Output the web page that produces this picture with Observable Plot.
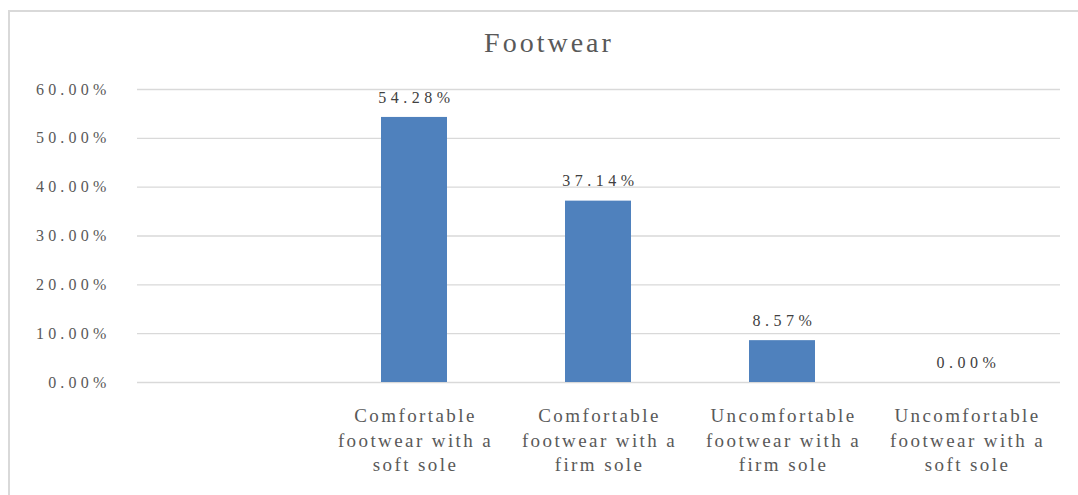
<!DOCTYPE html>
<html>
<head>
<meta charset="utf-8">
<script src="https://cdn.jsdelivr.net/npm/d3@7"></script>
<script src="https://cdn.jsdelivr.net/npm/@observablehq/plot@0.6"></script>
<style>
  html, body { margin: 0; padding: 0; background: #fff; }
  #wrap { position: relative; width: 1078px; height: 495px; overflow: hidden; }
  #frame { position: absolute; left: 8px; top: 10px; width: 1200px; height: 600px; border: 2px solid #d9d9d9; box-sizing: border-box; }
  #title { position: absolute; left: 0; width: 1098px; top: 27px; text-align: center; font-family: "Liberation Serif", serif; font-size: 28px; letter-spacing: 3px; color: #595959; }
  #chart { position: absolute; left: 0; top: 70px; }
</style>
</head>
<body>
<div id="wrap">
  <div id="frame"></div>
  <div id="title">Footwear</div>
  <div id="chart"></div>
</div>
<script>
const categories = [
  "Comfortable\nfootwear with a\nsoft sole",
  "Comfortable\nfootwear with a\nfirm sole",
  "Uncomfortable\nfootwear with a\nfirm sole",
  "Uncomfortable\nfootwear with a\nsoft sole"
];
const values = [54.28, 37.14, 8.57, 0.00];
const yTicks = [0, 10, 20, 30, 40, 50, 60];

const data = categories.map((c, i) => ({category: c, value: values[i]}));
const domainX = ["", ...categories];
const serif = "'Liberation Serif', 'Times New Roman', serif";

const chart = Plot.plot({
  width: 1078,
  height: 425,
  marginLeft: 137,
  marginRight: 18,
  marginTop: 19,
  marginBottom: 113,
  style: {fontFamily: serif},
  x: {domain: domainX, paddingInner: 0.64, paddingOuter: 0.32, label: null, tickSize: 0, tickPadding: 0},
  y: {domain: [0, 60], ticks: yTicks, label: null},
  marks: [
    Plot.gridY(yTicks, {stroke: "#d9d9d9", strokeOpacity: 1, strokeWidth: 1.3}),
    Plot.barY(data, {x: "category", y: "value", fill: "#4f81bd"}),
    Plot.text(data, {x: "category", y: "value", text: d => d.value.toFixed(2) + "%", dy: -20, dx: 2, fontSize: 16, fontFamily: serif, fill: "#404040"}),
    Plot.axisY(yTicks, {tickSize: 0, tickPadding: 27, tickFormat: d => d.toFixed(2) + "%", fontSize: 16, fontFamily: serif, fill: "#595959", label: null}),
    Plot.axisX({tickSize: 0, tickPadding: 0, fontSize: 19, fontFamily: serif, lineHeight: 1.3, fill: "#595959", dy: 22, dx: 1, textAnchor: "middle", lineAnchor: "top", label: null})
  ]
});
document.getElementById("chart").appendChild(chart);
const svg = d3.select(chart);
svg.selectAll("text").style("font-family", serif);
svg.selectAll('g[aria-label="text"] text').style("letter-spacing", "4.5px");
svg.selectAll('g[aria-label="y-axis tick label"] text').style("letter-spacing", "4.2px");
svg.selectAll('g[aria-label="x-axis tick label"] text').style("letter-spacing", "2.4px");
</script>
</body>
</html>
